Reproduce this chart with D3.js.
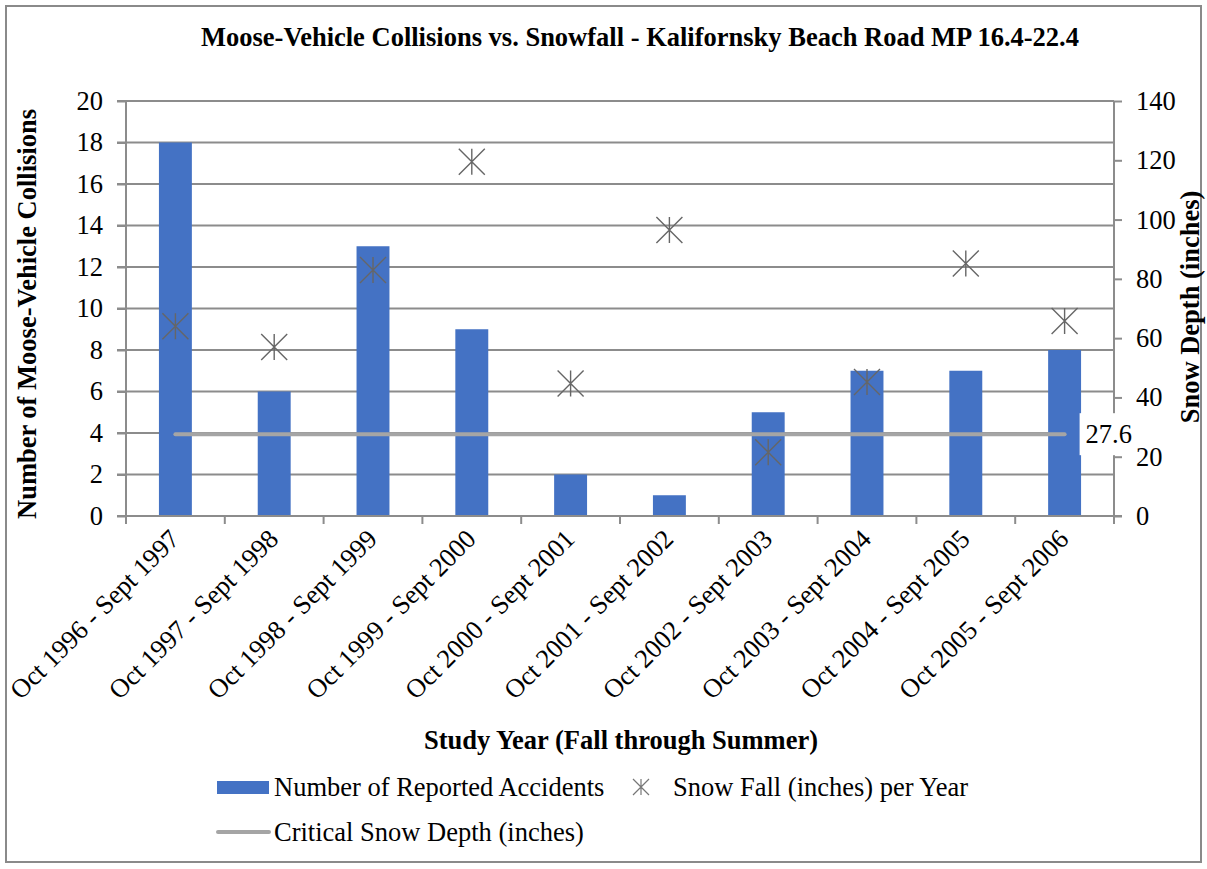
<!DOCTYPE html>
<html>
<head>
<meta charset="utf-8">
<script src="https://cdn.jsdelivr.net/npm/d3@7"></script>
<style>
  html, body { margin: 0; padding: 0; background: #fff; }
  svg { display: block; font-family: "Liberation Serif", "Times New Roman", serif; }
</style>
</head>
<body>
<svg id="chart" width="1207" height="869"></svg>
<script>
// Study years (fall through summer)
const studyYears = [
  "Oct 1996 - Sept 1997", "Oct 1997 - Sept 1998", "Oct 1998 - Sept 1999",
  "Oct 1999 - Sept 2000", "Oct 2000 - Sept 2001", "Oct 2001 - Sept 2002",
  "Oct 2002 - Sept 2003", "Oct 2003 - Sept 2004", "Oct 2004 - Sept 2005",
  "Oct 2005 - Sept 2006"
];
// Number of reported moose-vehicle accidents per study year
const accidents = [18, 6, 13, 9, 2, 1, 5, 7, 7, 8];
// Snow fall (inches) per year
const snowFall = [64, 57, 83, 119.5, 44.7, 96.5, 21.5, 45.2, 85.2, 65.8];
// Critical snow depth (inches)
const criticalDepth = 27.6;
// Tick values
const leftTicks = [0, 2, 4, 6, 8, 10, 12, 14, 16, 18, 20];
const rightTicks = [0, 20, 40, 60, 80, 100, 120, 140];

const svg = d3.select("#chart");
const W = 1207, H = 869;
const plot = { left: 126, right: 1114, top: 101, bottom: 516 };
const gridColor = "#8c8c8c";
const fs = 26.5;

// Outer frame
svg.append("rect").attr("x", 6).attr("y", 6).attr("width", W - 12).attr("height", H - 13)
  .attr("fill", "#fff").attr("stroke", "#8a8a8a").attr("stroke-width", 2);

const x = d3.scaleBand().domain(studyYears).range([plot.left, plot.right]).paddingInner(0).paddingOuter(0);
const yL = d3.scaleLinear().domain([0, 20]).range([plot.bottom, plot.top]);
const yR = d3.scaleLinear().domain([0, 140]).range([plot.bottom, plot.top]);

// Horizontal gridlines (extend through the left tick marks)
svg.append("g").selectAll("line").data(leftTicks.filter(d => d > 0)).join("line")
  .attr("x1", plot.left - 9).attr("x2", plot.right)
  .attr("y1", d => yL(d)).attr("y2", d => yL(d))
  .attr("stroke", gridColor).attr("stroke-width", 2);

// Bars
const barW = x.bandwidth() / 3;
svg.append("g").selectAll("rect").data(accidents).join("rect")
  .attr("x", (d, i) => x(studyYears[i]) + x.bandwidth() / 2 - barW / 2)
  .attr("width", barW)
  .attr("y", d => yL(d))
  .attr("height", d => yL(0) - yL(d))
  .attr("fill", "#4472c4");

// Left axis
const gL = svg.append("g").attr("transform", `translate(${plot.left},0)`)
  .call(d3.axisLeft(yL).tickValues(leftTicks).tickSize(9).tickPadding(14));
// Right axis
const gR = svg.append("g").attr("transform", `translate(${plot.right},0)`)
  .call(d3.axisRight(yR).tickValues(rightTicks).tickSize(8).tickPadding(14));
// Bottom axis (ticks at category boundaries)
const boundaries = studyYears.map(c => x(c)).concat([plot.right]);
const gB = svg.append("g");
gB.append("line").attr("x1", plot.left - 9).attr("x2", plot.right + 8)
  .attr("y1", plot.bottom).attr("y2", plot.bottom)
  .attr("stroke", gridColor).attr("stroke-width", 2);
gB.selectAll("line.tk").data(boundaries).join("line").attr("class", "tk")
  .attr("x1", d => d).attr("x2", d => d)
  .attr("y1", plot.bottom).attr("y2", plot.bottom + 8)
  .attr("stroke", gridColor).attr("stroke-width", 2);

[gL, gR].forEach(g => {
  g.select(".domain").attr("stroke", gridColor).attr("stroke-width", 2);
  g.selectAll(".tick line").attr("stroke", gridColor).attr("stroke-width", 2);
  g.selectAll(".tick text").attr("font-size", fs).attr("fill", "#000")
    .attr("font-family", "Liberation Serif, Times New Roman, serif");
});
gL.select(".domain").attr("d", `M0,${plot.top}V${plot.bottom}`);
gR.select(".domain").attr("d", `M0,${plot.top}V${plot.bottom}`);

// Category labels, rotated
svg.append("g").selectAll("text").data(studyYears).join("text")
  .attr("transform", d => `translate(${x(d) + x.bandwidth() / 2 - 1},${plot.bottom + 18}) rotate(-45)`)
  .attr("text-anchor", "end")
  .attr("dy", "0.35em")
  .attr("font-size", fs)
  .text(d => d);

// Critical snow depth line
const cx0 = x(studyYears[0]) + x.bandwidth() / 2;
const cx1 = x(studyYears[studyYears.length - 1]) + x.bandwidth() / 2;
svg.append("line")
  .attr("x1", cx0).attr("x2", cx1)
  .attr("y1", yR(criticalDepth)).attr("y2", yR(criticalDepth))
  .attr("stroke", "#a5a5a5").attr("stroke-width", 4).attr("stroke-linecap", "round");

// Asterisk marker path: an X with a vertical stroke through it
function asterisk(r) {
  return `M${-r},${-r}L${r},${r}M${-r},${r}L${r},${-r}M0,${-r}L0,${r}`;
}

// Snow fall markers
svg.append("g").selectAll("path").data(snowFall).join("path")
  .attr("transform", (d, i) => `translate(${x(studyYears[i]) + x.bandwidth() / 2},${yR(d)})`)
  .attr("d", asterisk(13))
  .attr("fill", "none").attr("stroke", "#666").attr("stroke-width", 1.4);

// Value label for the critical depth line
const lbl = svg.append("g").attr("transform", `translate(${cx1 + 15},${yR(criticalDepth)})`);
lbl.append("rect").attr("x", 0).attr("y", -21).attr("width", 44).attr("height", 42).attr("fill", "#fff");
lbl.append("text").attr("x", 6).attr("dy", "0.35em").attr("font-size", fs).text(criticalDepth.toFixed(1));

// Title
svg.append("text").attr("x", 640).attr("y", 46).attr("text-anchor", "middle")
  .attr("font-size", fs).attr("font-weight", "bold")
  .text("Moose-Vehicle Collisions vs. Snowfall - Kalifornsky Beach Road MP 16.4-22.4");

// Axis titles
svg.append("text").attr("x", 621).attr("y", 749).attr("text-anchor", "middle")
  .attr("font-size", fs).attr("font-weight", "bold")
  .text("Study Year (Fall through Summer)");
svg.append("text").attr("transform", "translate(36,314) rotate(-90)").attr("text-anchor", "middle")
  .attr("font-size", fs).attr("font-weight", "bold")
  .text("Number of Moose-Vehicle Collisions");
svg.append("text").attr("transform", "translate(1199,307) rotate(-90)").attr("text-anchor", "middle")
  .attr("font-size", fs).attr("font-weight", "bold")
  .text("Snow Depth (inches)");

// Legend
const lg = svg.append("g");
lg.append("rect").attr("x", 217).attr("y", 781).attr("width", 52).attr("height", 13).attr("fill", "#4472c4");
lg.append("text").attr("x", 274).attr("y", 787).attr("dy", "0.35em").attr("font-size", fs)
  .text("Number of Reported Accidents");
lg.append("path").attr("transform", "translate(641,787)").attr("d", asterisk(8))
  .attr("fill", "none").attr("stroke", "#777").attr("stroke-width", 1.2);
lg.append("text").attr("x", 673).attr("y", 787).attr("dy", "0.35em").attr("font-size", fs)
  .text("Snow Fall (inches) per Year");
lg.append("line").attr("x1", 218).attr("x2", 269).attr("y1", 832).attr("y2", 832)
  .attr("stroke", "#a5a5a5").attr("stroke-width", 4).attr("stroke-linecap", "round");
lg.append("text").attr("x", 274).attr("y", 832).attr("dy", "0.35em").attr("font-size", fs)
  .text("Critical Snow Depth (inches)");
</script>
</body>
</html>
